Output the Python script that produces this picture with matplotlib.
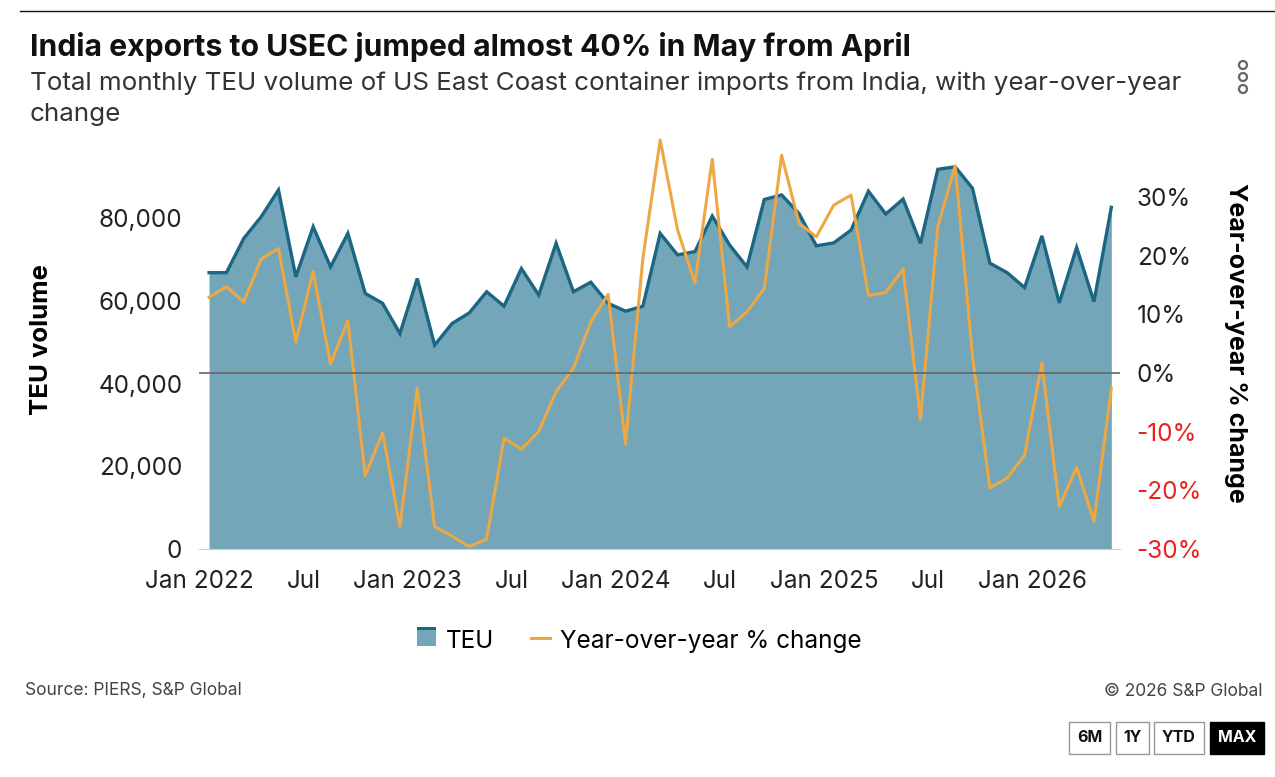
import matplotlib.pyplot as plt
import numpy as np
from matplotlib.patches import Rectangle, Ellipse, Patch
from matplotlib.lines import Line2D
from matplotlib.legend_handler import HandlerBase

plt.rcParams['font.family'] = ['Inter', 'DejaVu Sans']

# monthly data, Jan 2022 .. May 2026
teu = [66800, 66800, 75100, 80300, 86800, 65800, 77900, 68200, 76300, 61800,
       59400, 52100, 65400, 49300, 54500, 57100, 62200, 58700, 67800, 61400,
       73900, 62200, 64500, 59400, 57500, 58700, 76300, 71100, 71900, 80500,
       73500, 68200, 84500, 85600, 81100, 73300, 74000, 77100, 86500, 81000,
       84600, 73900, 91800, 92400, 87200, 69100, 66800, 63200, 75700, 59500,
       72900, 59800, 82600]
yoy = [12.9, 14.7, 12.1, 19.4, 21.2, 5.3, 17.3, 1.5, 8.9, -17.5,
       -10.2, -26.2, -2.6, -26.2, -27.8, -29.6, -28.3, -11.1, -13.0, -10.0,
       -3.2, 0.8, 8.7, 13.4, -12.1, 19.5, 39.7, 24.4, 15.3, 36.4,
       7.9, 10.4, 14.4, 37.1, 25.5, 23.2, 28.6, 30.3, 13.2, 13.7,
       17.7, -7.9, 24.9, 35.3, 2.8, -19.6, -17.9, -14.0, 1.7, -22.8,
       -16.1, -25.3, -2.6]
tick_pos = [0, 6, 12, 18, 24, 30, 36, 42, 48]
tick_lab = ['Jan 2022', 'Jul', 'Jan 2023', 'Jul', 'Jan 2024', 'Jul',
            'Jan 2025', 'Jul', 'Jan 2026']

fill_c = '#72a6b8'
line_c = '#1b6682'
orange = '#eda745'
red = '#e8231f'


class AreaHandler(HandlerBase):
    # filled box with the dark outline strip on top
    def create_artists(self, legend, orig, xd, yd, w, h, fontsize, trans):
        box = Rectangle((xd, yd), w, h, facecolor=fill_c, lw=0, transform=trans)
        top = Rectangle((xd, yd + h * 0.86), w, h * 0.14, facecolor=line_c, lw=0,
                        transform=trans)
        return [box, top]


fig = plt.figure(figsize=(12.75, 7.77), dpi=100)
W, H = 1275, 777

ax = fig.add_axes([199 / W, 1 - 549 / H, 921 / W, 419 / H])
x = np.arange(len(teu))
ax.fill_between(x, teu, color=fill_c, lw=0)
ax.plot(x, teu, color=line_c, lw=2.4, solid_joinstyle='miter')
ax.set_xlim(-0.58, 52.5)
ax.set_ylim(0, 101300)
ax.set_yticks([0, 20000, 40000, 60000, 80000])
ax.set_yticklabels(['0', '20,000', '40,000', '60,000', '80,000'])
# month labels sit a little left of the month's point
ax.set_xticks([p - 0.55 for p in tick_pos])
ax.set_xticklabels(tick_lab)
ax.tick_params(length=0, labelsize=17.5, colors='#222222')
ax.tick_params(axis='x', pad=15)
ax.tick_params(axis='y', pad=12)
for s in ['top', 'right', 'left']:
    ax.spines[s].set_visible(False)
ax.spines['bottom'].set_color('#cccccc')
ax.set_ylabel('TEU volume', fontsize=18.5, fontweight='bold')
ax.yaxis.set_label_coords((53 - 199) / 921, 0.5)

ax2 = ax.twinx()
ax2.plot(x, yoy, color=orange, lw=2.2)
ax2.axhline(0, color='#666666', lw=1.2)
ax2.set_ylim(-30, 41.4)
pct = [30, 20, 10, 0, -10, -20, -30]
ax2.set_yticks(pct)
ax2.set_yticklabels([f'{p}%' for p in pct])
ax2.tick_params(length=0, labelsize=17.5, pad=12)
for t, p in zip(ax2.get_yticklabels(), pct):
    t.set_color(red if p < 0 else '#222222')
for s in ax2.spines.values():
    s.set_visible(False)
ax2.set_ylabel('Year-over-year % change', fontsize=18, fontweight='bold',
               rotation=270, va='center')
ax2.yaxis.set_label_coords((1236 - 199) / 921, (549 - 343) / 419)

# header
fig.add_artist(Line2D([20 / W, 1], [1 - 11 / H] * 2, color='#111111', lw=1))
fig.text(30 / W, 1 - 47 / H, 'India exports to USEC jumped almost 40% in May from April',
         fontsize=21.7, fontweight='bold', va='center', color='#111111')
fig.text(30 / W, 1 - 99 / H,
         'Total monthly TEU volume of US East Coast container imports from India, with year-over-year\nchange',
         fontsize=18.7, va='center', color='#333333', linespacing=1.45)
for cy in [65, 77, 89]:
    fig.add_artist(Ellipse((1243 / W, 1 - cy / H), 8 / W, 8 / H, transform=fig.transFigure,
                           fill=False, ec='#666666', lw=1.6))

# legend
handles = [Patch(), Line2D([0], [0], color=orange, lw=2.2)]
leg = fig.legend(handles, ['TEU', 'Year-over-year % change'], loc='center',
                 bbox_to_anchor=(639 / W, 1 - 641 / H), ncol=2, frameon=False,
                 fontsize=17.5, handlelength=0.8, handleheight=0.85, columnspacing=1.5,
                 handletextpad=0.4, handler_map={Patch: AreaHandler()})

# footer
fig.text(25 / W, 1 - 691 / H, 'Source: PIERS, S&P Global', fontsize=12.5,
         color='#444444', va='center')
fig.text(1263 / W, 1 - 691 / H, '\u00a9 2026 S&P Global', fontsize=12.5,
         color='#444444', va='center', ha='right')

buttons = [('6M', 1069, 1110), ('1Y', 1116, 1149), ('YTD', 1154, 1204), ('MAX', 1210, 1264)]
for lab, x0, x1 in buttons:
    active = lab == 'MAX'
    fig.add_artist(Rectangle((x0 / W, 1 - 754 / H), (x1 - x0) / W, 32 / H,
                             transform=fig.transFigure,
                             facecolor='black' if active else 'white',
                             edgecolor='black' if active else '#999999', lw=1))
    fig.text((x0 + x1) / 2 / W, 1 - 738 / H, lab, ha='center', va='center',
             fontsize=11.5, fontweight='bold', color='white' if active else '#111111')

fig.savefig('out.png', dpi=100)
